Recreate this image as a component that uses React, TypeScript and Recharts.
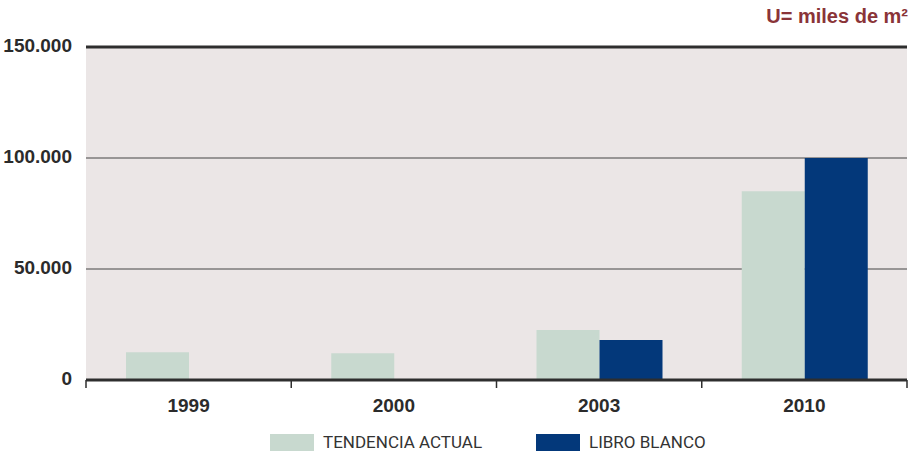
import { BarChart, Bar, XAxis, YAxis, CartesianGrid, ReferenceLine } from 'recharts';

const years = ['1999', '2000', '2003', '2010'];
const tendenciaActual = [12500, 12000, 22500, 85000];
const libroBlanco = [null, null, 18000, 100000];
const yTicks = [0, 50000, 100000, 150000];

const COLORS = {
  tendencia: '#c8d9cf',
  libro: '#03387a',
  plotBg: '#ebe6e6',
  grid: '#444',
  axis: '#2e2e2e',
  text: '#2b2b2b',
  unit: '#8a3438',
};

const data = years.map((year, i) => ({
  year,
  tendencia: tendenciaActual[i],
  libro: libroBlanco[i],
}));

const formatThousands = (v: number) =>
  v.toString().replace(/\B(?=(\d{3})+(?!\d))/g, '.');

function YTick({ x, y, payload }: any) {
  return (
    <text
      x={x + 80 - 86}
      y={y}
      dy={5}
      textAnchor="end"
      fontFamily="Liberation Sans, Arial, sans-serif"
      fontWeight="bold"
      fontSize={19}
      fill={COLORS.text}
    >
      {formatThousands(payload.value)}
    </text>
  );
}

function XTick({ x, y, payload, index, visibleTicksCount }: any) {
  const half = payload.offset ?? 102.6;
  const isLast = index === visibleTicksCount - 1;
  return (
    <g>
      <line x1={x - half} x2={x - half} y1={y} y2={y + 8} stroke={COLORS.axis} strokeWidth={1.5} />
      {isLast && (
        <line x1={x + half} x2={x + half} y1={y} y2={y + 8} stroke={COLORS.axis} strokeWidth={1.5} />
      )}
      <text
        x={x}
        y={y + 32}
        textAnchor="middle"
        fontFamily="Liberation Sans, Arial, sans-serif"
        fontWeight="bold"
        fontSize={19}
        fill={COLORS.text}
      >
        {payload.value}
      </text>
    </g>
  );
}

function LegendItem({ color, label }: { color: string; label: string }) {
  return (
    <div style={{ display: 'flex', alignItems: 'center' }}>
      <div style={{ width: 44, height: 17, background: color, marginRight: 9 }} />
      <span style={{ fontFamily: 'Roboto, sans-serif', fontSize: 17, color: '#333', lineHeight: '17px' }}>
        {label}
      </span>
    </div>
  );
}

export default function App() {
  return (
    <div style={{ position: 'absolute', left: 0, top: 0, width: 912, height: 451, background: '#fff' }}>
      <div
        style={{
          position: 'absolute',
          right: 4,
          top: 5,
          fontFamily: 'Liberation Sans, Arial, sans-serif',
          fontWeight: 'bold',
          fontSize: 20,
          color: COLORS.unit,
        }}
      >
        U= miles de m²
      </div>
      <BarChart
        width={912}
        height={451}
        data={data}
        margin={{ top: 47, right: 5, left: 0, bottom: 0 }}
        barGap={0}
      >
        <CartesianGrid
          vertical={false}
          fill={COLORS.plotBg}
          fillOpacity={1}
          stroke={COLORS.grid}
          strokeWidth={1}
        />
        <XAxis
          dataKey="year"
          height={71}
          axisLine={false}
          tickLine={false}
          tickSize={0}
          tickMargin={0}
          tick={<XTick />}
          interval={0}
        />
        <YAxis
          width={86}
          domain={[0, 150000]}
          ticks={yTicks}
          axisLine={false}
          tickLine={false}
          tick={<YTick />}
        />
        <Bar dataKey="tendencia" fill={COLORS.tendencia} barSize={63} isAnimationActive={false} />
        <Bar dataKey="libro" fill={COLORS.libro} barSize={63} isAnimationActive={false} />
        <ReferenceLine y={150000} stroke={COLORS.axis} strokeWidth={3} />
        <ReferenceLine y={0} stroke={COLORS.axis} strokeWidth={3} />
      </BarChart>
      <div style={{ position: 'absolute', top: 434, left: 270, display: 'flex', gap: 0 }}>
        <div style={{ width: 266 }}>
          <LegendItem color={COLORS.tendencia} label="TENDENCIA ACTUAL" />
        </div>
        <LegendItem color={COLORS.libro} label="LIBRO BLANCO" />
      </div>
    </div>
  );
}
